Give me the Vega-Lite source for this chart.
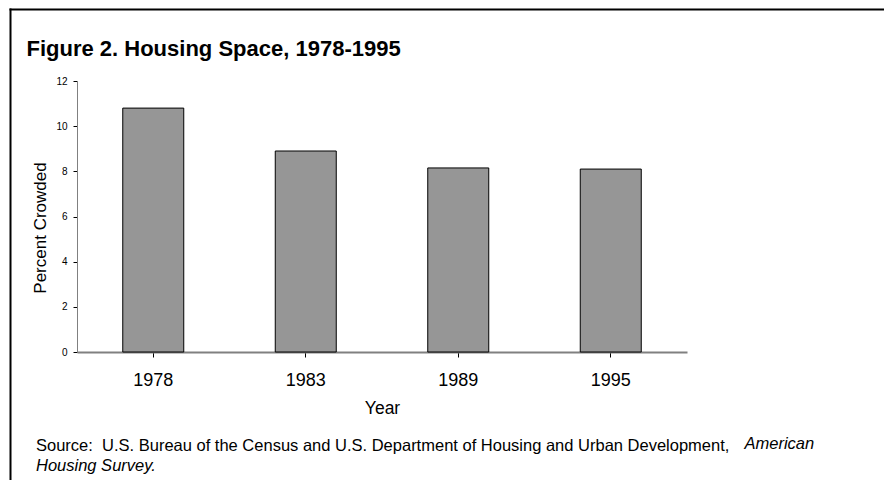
{
  "$schema": "https://vega.github.io/schema/vega-lite/v6.json",
  "autosize": "none",
  "width": 874,
  "height": 471,
  "padding": {"left": 10, "top": 9, "right": 0, "bottom": 0},
  "background": "white",
  "config": {
    "view": {"stroke": null},
    "font": "Liberation Sans"
  },
  "title": {
    "text": "Source:\u00a0 U.S. Bureau of the Census and U.S. Department of Housing and Urban Development,",
    "subtitle": "Housing Survey.",
    "orient": "bottom",
    "anchor": "start",
    "frame": "group",
    "offset": 0,
    "dx": 26,
    "dy": -43.5,
    "font": "Liberation Sans",
    "fontSize": 16.5,
    "fontWeight": "normal",
    "color": "#000000",
    "subtitleFont": "Liberation Sans",
    "subtitleFontSize": 16.5,
    "subtitleFontStyle": "italic",
    "subtitleColor": "#000000",
    "subtitlePadding": 4
  },
  "data": {
    "values": [
      {"Year": "1978", "Percent": 10.8},
      {"Year": "1983", "Percent": 8.9},
      {"Year": "1989", "Percent": 8.15},
      {"Year": "1995", "Percent": 8.1}
    ]
  },
  "layer": [
    {
      "mark": {"type": "bar", "fill": "#969696", "stroke": "#000000", "strokeWidth": 1},
      "encoding": {
        "x": {
          "field": "Year",
          "type": "nominal",
          "sort": null,
          "scale": {"range": [67, 677], "paddingInner": 0.6, "paddingOuter": 0.3},
          "axis": {
            "orient": "bottom",
            "offset": -128,
            "title": "Year",
            "grid": false,
            "labelAngle": 0,
            "labelFontSize": 18,
            "labelColor": "#000000",
            "labelBaseline": "alphabetic",
            "labelPadding": 28,
            "tickSize": 5,
            "tickColor": "#000000",
            "domainColor": "#808080",
            "domainWidth": 2,
            "titleFontSize": 17.5,
            "titleFontWeight": "normal",
            "titleColor": "#000000",
            "titleX": 372,
            "titleY": 61,
            "titleAlign": "center",
            "titleBaseline": "alphabetic"
          }
        },
        "y": {
          "field": "Percent",
          "type": "quantitative",
          "scale": {"domain": [0, 12], "range": [343, 72], "nice": false, "zero": true},
          "axis": {
            "orient": "left",
            "offset": -67,
            "values": [0, 2, 4, 6, 8, 10, 12],
            "title": "Percent Crowded",
            "grid": false,
            "labelFontSize": 10,
            "labelColor": "#000000",
            "labelPadding": 6,
            "tickSize": 4,
            "tickColor": "#000000",
            "domainColor": "#808080",
            "domainWidth": 1,
            "titleFontSize": 17,
            "titleFontWeight": "normal",
            "titleColor": "#000000",
            "titleAngle": 270,
            "titleX": -32,
            "titleY": 218.5,
            "titleAlign": "center",
            "titleBaseline": "alphabetic"
          }
        }
      }
    },
    {
      "mark": {"type": "bar", "opacity": 0},
      "encoding": {
        "x": {
          "field": "Year",
          "type": "nominal",
          "sort": null,
          "scale": {"range": [-1, 874], "paddingInner": 0.6, "paddingOuter": 0.3},
          "axis": {
            "orient": "top",
            "offset": 0,
            "labels": false,
            "ticks": false,
            "domain": true,
            "domainColor": "#000000",
            "domainWidth": 2,
            "grid": false,
            "title": "Figure 2. Housing Space, 1978-1995",
            "titleFontSize": 22,
            "titleFontWeight": "bold",
            "titleColor": "#000000",
            "titleAngle": 0,
            "titleX": 16,
            "titleY": 46,
            "titleAlign": "left",
            "titleBaseline": "alphabetic"
          }
        },
        "y": {
          "field": "Percent",
          "type": "quantitative",
          "scale": {"domain": [0, 12], "range": [471, -1], "nice": false, "zero": true},
          "axis": {
            "orient": "left",
            "offset": 0,
            "labels": false,
            "ticks": false,
            "domain": true,
            "domainColor": "#000000",
            "domainWidth": 2,
            "grid": false,
            "title": "American",
            "titleFontSize": 16.5,
            "titleFontStyle": "italic",
            "titleFontWeight": "normal",
            "titleColor": "#000000",
            "titleAngle": 0,
            "titleX": 734,
            "titleY": 439.3,
            "titleAlign": "left",
            "titleBaseline": "alphabetic"
          }
        }
      }
    }
  ],
  "resolve": {"scale": {"x": "independent", "y": "independent"}}
}
